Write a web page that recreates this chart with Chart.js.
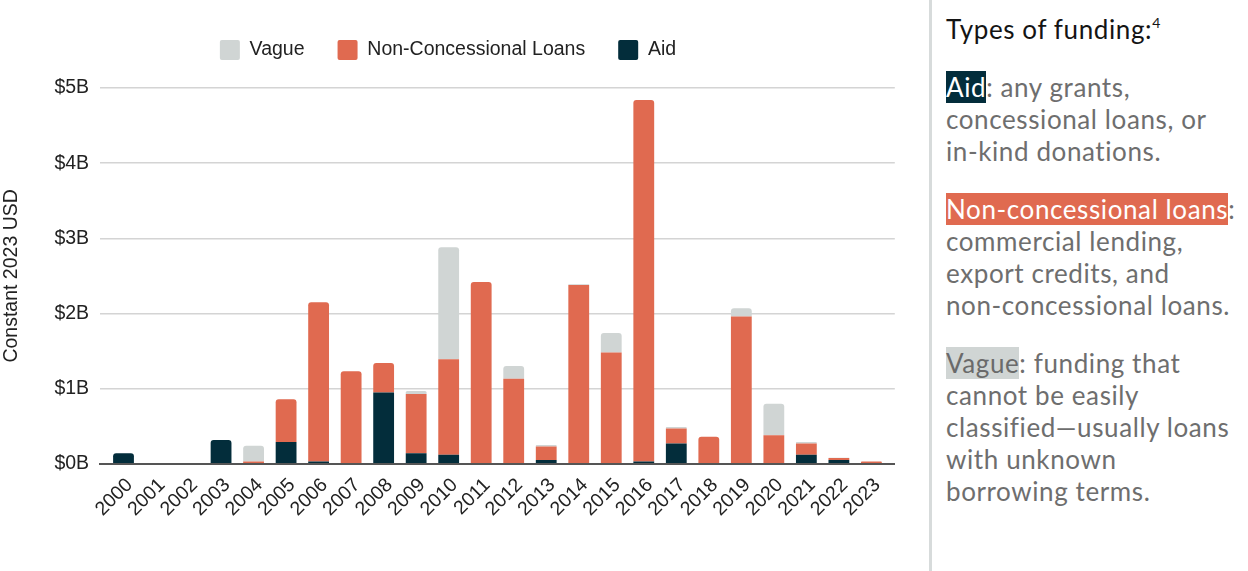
<!DOCTYPE html>
<html>
<head>
<meta charset="utf-8">
<script src="https://cdn.jsdelivr.net/npm/chart.js@4.4.1/dist/chart.umd.min.js"></script>
<style>
  html, body { margin: 0; padding: 0; background: #fff; }
  body { width: 1248px; height: 571px; position: relative; overflow: hidden; }
  #chartBox { position: absolute; left: 0; top: 0; width: 898px; height: 571px; }
  #separateur { position: absolute; left: 929px; top: 0; width: 3px; height: 571px; background: #d7dbdb; }
  #legende {
    position: absolute; left: 946px; top: 13px; width: 302px;
    font-family: Lato, sans-serif; font-size: 26px; line-height: 32px; letter-spacing: 0.6px; color: #6e6e6e;
  }
  #legende p { margin: 0 0 26px 0; white-space: nowrap; }
  #legende .titre { color: #141414; }
  #legende sup { font-size: 14px; line-height: 0; vertical-align: 11px; }
  .aid { background: #032d3b; color: #fff; }
  .ncl { background: #e06a50; color: #fff; }
  .vague { background: #d0d5d4; color: #6a6a6a; }
</style>
</head>
<body>
<div id="chartBox"><canvas id="myChart"></canvas></div>
<div id="separateur"></div>
<div id="legende">
  <p class="titre">Types of funding:<sup>4</sup></p>
  <p><span class="aid">Aid</span>: any grants,<br>concessional loans, or<br>in-kind donations.</p>
  <p><span class="ncl">Non-concessional loans</span>:<br>commercial lending,<br>export credits, and<br>non-concessional loans.</p>
  <p><span class="vague">Vague</span>: funding that<br>cannot be easily<br>classified—usually loans<br>with unknown<br>borrowing terms.</p>
</div>
<script>
// Années et montants (milliards USD constants 2023)
const annees = ['2000','2001','2002','2003','2004','2005','2006','2007','2008','2009','2010','2011',
                '2012','2013','2014','2015','2016','2017','2018','2019','2020','2021','2022','2023'];
const aid = [0.14,0,0,0.315,0,0.29,0.03,0,0.95,0.14,0.12,0,0,0.05,0,0,0.03,0.27,0,0,0,0.12,0.05,0];
const nonConcessional = [0,0,0,0,0.03,0.57,2.12,1.23,0.39,0.79,1.27,2.42,1.13,0.18,2.38,1.48,4.81,0.20,0.36,1.96,0.38,0.15,0.026,0.03];
const vague = [0,0,0,0,0.21,0,0,0,0,0.04,1.49,0,0.17,0.02,0.01,0.26,0,0.02,0,0.11,0.42,0.02,0.005,0];
const yTicks = [0, 1, 2, 3, 4, 5];

const series = [aid, nonConcessional, vague];
const police = 'Liberation Sans, Arial, sans-serif';
const taille = 19.5;

// arrondi seulement sur le segment du haut de chaque pile
function rayonHaut(ctx) {
  const i = ctx.dataIndex;
  for (let d = ctx.datasetIndex + 1; d < series.length; d++) {
    if (series[d][i] > 0) return 0;
  }
  return 3;
}

function versPoints(valeurs) {
  return valeurs.map((v, i) => ({ x: i, y: v }));
}

// un peu plus d'espace sous la légende
const margeLegende = {
  id: 'margeLegende',
  beforeInit(chart) {
    const fitOrig = chart.legend.fit;
    chart.legend.fit = function () {
      fitOrig.call(this);
      this.height += 18;
    };
  }
};

const ctx = document.getElementById('myChart').getContext('2d');
new Chart(ctx, {
  type: 'bar',
  data: {
    datasets: [
      { label: 'Aid', data: versPoints(aid), backgroundColor: '#032d3b' },
      { label: 'Non-Concessional Loans', data: versPoints(nonConcessional), backgroundColor: '#e06a50' },
      { label: 'Vague', data: versPoints(vague), backgroundColor: '#d0d5d4' }
    ]
  },
  plugins: [margeLegende],
  options: {
    responsive: true,
    maintainAspectRatio: false,
    animation: false,
    borderWidth: 0,
    barPercentage: 0.64,
    categoryPercentage: 1,
    datasets: { bar: { borderRadius: rayonHaut, borderSkipped: 'start' } },
    layout: { padding: { top: 7, left: 0, right: 2, bottom: 40 } },
    plugins: {
      tooltip: { enabled: false },
      legend: {
        position: 'top',
        reverse: true,
        labels: {
          boxWidth: 20,
          boxHeight: 20,
          padding: 33,
          useBorderRadius: true,
          borderRadius: 2,
          color: '#222',
          font: { family: police, size: taille }
        }
      }
    },
    scales: {
      x: {
        type: 'linear',
        stacked: true,
        min: -0.72,
        max: 23.72,
        offset: false,
        afterBuildTicks: (scale) => {
          scale.ticks = annees.map((_, i) => ({ value: i }));
        },
        grid: { display: false, drawTicks: false },
        border: { display: true, color: '#555', width: 2 },
        ticks: {
          autoSkip: false,
          maxRotation: 45,
          minRotation: 45,
          padding: 10,
          labelOffset: 6,
          color: '#222',
          font: { family: police, size: taille },
          callback: (v) => annees[v]
        }
      },
      y: {
        stacked: true,
        min: 0,
        max: 5,
        afterBuildTicks: (scale) => {
          scale.ticks = yTicks.map(v => ({ value: v }));
        },
        grid: { color: '#d4d4d4', lineWidth: 1.5, drawTicks: false },
        border: { display: false },
        ticks: {
          padding: 11,
          color: '#222',
          font: { family: police, size: taille },
          callback: (v) => '$' + v + 'B'
        },
        title: {
          display: true,
          text: 'Constant 2023 USD',
          color: '#222',
          font: { family: police, size: taille },
          padding: { top: 0, bottom: 20 }
        }
      }
    }
  }
});
</script>
</body>
</html>
